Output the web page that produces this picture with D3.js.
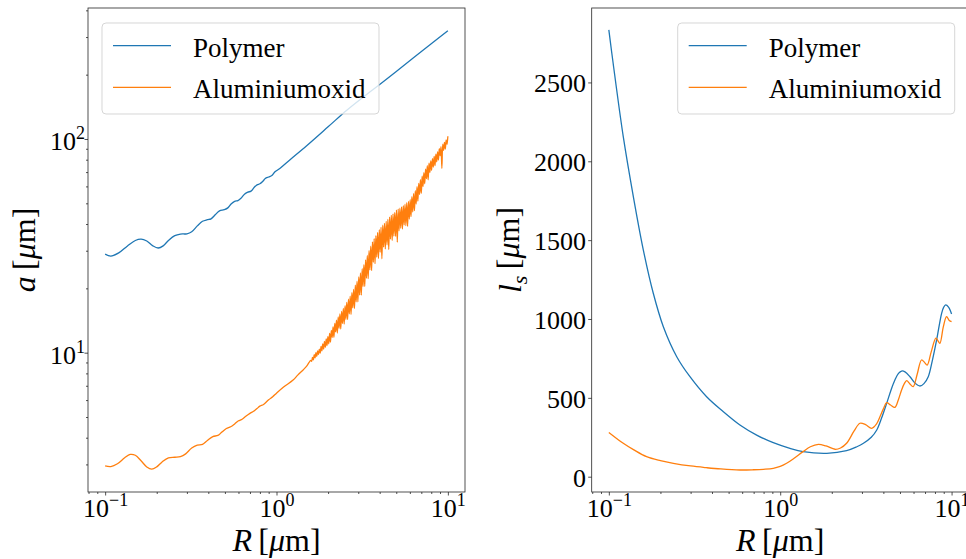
<!DOCTYPE html>
<html>
<head>
<meta charset="utf-8">
<script src="https://cdn.jsdelivr.net/npm/d3@7"></script>
<style>
  html, body { margin: 0; padding: 0; background: #fff; }
  svg { display: block; font-family: "Liberation Serif", "Times New Roman", serif; }
</style>
</head>
<body>
<svg id="fig" width="966" height="559"></svg>
<script>
// ---- series ----
const seriesNames = ["Polymer", "Aluminiumoxid"];
const seriesColors = ["#1f77b4", "#ff7f0e"];

// left panel: a(R), Polymer
const polyR_a = [0.100, 0.108, 0.120, 0.135, 0.150, 0.162, 0.175, 0.190, 0.204, 0.218, 0.235, 0.255, 0.275,
  0.300, 0.320, 0.345, 0.370, 0.395, 0.415, 0.440, 0.465, 0.495, 0.520, 0.545, 0.570, 0.595, 0.620, 0.650,
  0.680, 0.710, 0.740, 0.770, 0.800, 0.830, 0.860, 0.900, 0.940, 0.980, 1.05, 1.20, 1.50, 2.00, 2.56, 3.20,
  4.00, 5.00, 6.30, 8.00, 10.0];
const polyA = [28.9, 28.3, 29.3, 31.6, 33.5, 34.0, 33.3, 31.6, 30.9, 31.6, 33.6, 35.3, 35.9,
  36.0, 36.8, 39.2, 41.2, 41.9, 42.3, 44.3, 46.1, 46.7, 47.6, 49.8, 51.1, 51.5, 52.8, 55.2,
  56.4, 57.0, 59.3, 61.0, 61.7, 63.2, 65.3, 66.4, 67.5, 70.2, 73.0, 80.0, 93.0, 114, 136, 157,
  180, 207, 240, 279, 321];

// left panel: a(R), Aluminiumoxid (smooth part, then the rapidly oscillating part)
const aluR_a = [0.100, 0.108, 0.118, 0.130, 0.140, 0.150, 0.162, 0.175, 0.187, 0.200, 0.215, 0.234, 0.255,
  0.275, 0.295, 0.320, 0.345, 0.370, 0.395, 0.425, 0.455, 0.480, 0.510, 0.540, 0.570, 0.600, 0.630, 0.665,
  0.700, 0.735, 0.770, 0.800, 0.840, 0.900, 0.950, 1.00, 1.10, 1.25, 1.33, 1.43, 1.50,
  1.585, 1.603, 1.622, 1.641, 1.660, 1.679, 1.698, 1.718, 1.738, 1.758,
  1.778, 1.799, 1.820, 1.841, 1.862, 1.884, 1.905, 1.928, 1.950, 1.972,
  1.995, 2.018, 2.042, 2.065, 2.089, 2.113, 2.138, 2.163, 2.188, 2.213,
  2.239, 2.265, 2.291, 2.317, 2.344, 2.371, 2.399, 2.427, 2.455, 2.483,
  2.512, 2.541, 2.570, 2.600, 2.630, 2.661, 2.692, 2.723, 2.754, 2.786,
  2.818, 2.851, 2.884, 2.917, 2.951, 2.985, 3.020, 3.055, 3.090, 3.126,
  3.162, 3.199, 3.236, 3.273, 3.311, 3.350, 3.388, 3.428, 3.467, 3.508,
  3.548, 3.589, 3.631, 3.673, 3.715, 3.758, 3.802, 3.846, 3.890, 3.936,
  3.981, 4.027, 4.074, 4.121, 4.169, 4.217, 4.266, 4.315, 4.365, 4.416,
  4.467, 4.519, 4.571, 4.624, 4.677, 4.732, 4.786, 4.842, 4.898, 4.955,
  5.012, 5.070, 5.129, 5.188, 5.248, 5.309, 5.370, 5.433, 5.495, 5.559,
  5.623, 5.689, 5.754, 5.821, 5.888, 5.957, 6.026, 6.095, 6.166, 6.237,
  6.310, 6.383, 6.457, 6.531, 6.607, 6.683, 6.761, 6.839, 6.918, 6.998,
  7.079, 7.161, 7.244, 7.328, 7.413, 7.499, 7.586, 7.674, 7.762, 7.852,
  7.943, 8.035, 8.128, 8.222, 8.318, 8.414, 8.511, 8.610, 8.710, 8.810,
  8.913, 9.016, 9.120, 9.226, 9.333, 9.441, 9.550, 9.661, 9.772, 9.886,
  10.00];
const aluA = [2.95, 2.93, 3.02, 3.22, 3.34, 3.31, 3.12, 2.92, 2.85, 2.92, 3.08, 3.22, 3.24,
  3.26, 3.36, 3.58, 3.69, 3.72, 3.88, 4.05, 4.10, 4.25, 4.42, 4.50, 4.64, 4.80, 4.88, 5.05,
  5.20, 5.32, 5.48, 5.62, 5.72, 6.02, 6.22, 6.46, 6.90, 7.45, 7.85, 8.30, 8.65,
  9.2, 9.1, 9.5, 9.25, 9.8, 9.45, 10.0, 9.6, 10.2, 9.8,
  10.4, 9.95, 10.7, 10.2, 11.0, 10.4, 11.3, 10.6, 11.6, 10.8,
  11.9, 11.0, 12.3, 11.2, 12.7, 11.8, 13.2, 11.8, 13.7, 12.5,
  14.2, 12.35, 14.7, 13.0, 15.2, 12.9, 15.6, 13.7, 16.1, 13.6,
  16.6, 14.3, 17.2, 14.3, 17.8, 15.2, 18.4, 15.1, 19.1, 16.2,
  19.8, 16.1, 20.7, 17.3, 21.6, 17.3, 22.6, 18.6, 23.6, 18.6,
  24.7, 20.4, 25.8, 20.4, 27.2, 22.3, 28.5, 22.2, 30.0, 24.4,
  31.5, 24.2, 33.0, 26.5, 34.2, 26.1, 35.3, 28.0, 36.5, 27.6,
  37.6, 29.5, 38.6, 27.5, 39.5, 31.2, 40.3, 30.6, 41.2, 32.0,
  42.1, 30.4, 43.1, 34.0, 43.9, 33.5, 44.6, 35.1, 45.3, 35.0,
  46.5, 32.9, 47.0, 37.2, 47.4, 38.2, 48.1, 37.9, 48.8, 39.6,
  49.5, 39.3, 50.3, 39.0, 51.0, 42.2, 52.0, 43.3, 53.7, 45.5,
  55.5, 46.2, 57.3, 49.6, 59.8, 51.2, 62.0, 55.0, 64.5, 55.7,
  67.0, 59.9, 69.6, 61.7, 72.3, 65.2, 75.0, 64.4, 77.0, 69.6,
  79.0, 71.4, 81.0, 73.9, 83.0, 75.0, 85.0, 78.2, 87.0, 79.7,
  90.0, 83.5, 92.0, 72.9, 94.5, 88.4, 96.5, 89.7, 99.0, 94.4,
  103];

// right panel: l_s(R), Polymer
const polyR_ls = [0.100, 0.106, 0.1214, 0.139, 0.159, 0.1817, 0.208, 0.249, 0.2975, 0.372, 0.466, 0.582,
  0.729, 0.911, 1.14, 1.36, 1.87, 2.44, 2.80, 3.06, 3.40, 3.66, 3.90, 4.18, 4.45, 4.67, 4.90, 5.11, 5.35,
  5.72, 6.10, 6.54, 6.90, 7.31, 7.70, 8.18, 8.75, 9.00, 9.24, 9.60, 10.0];
const polyLs = [2833, 2620, 2156, 1776, 1437, 1163, 951, 761, 634, 507, 412, 328,
  264, 216, 180, 159, 148, 165, 190, 212, 250, 296, 370, 465, 555, 613, 655, 670, 665,
  634, 595, 575, 590, 634, 730, 867, 1036, 1075, 1089, 1075, 1032];

// right panel: l_s(R), Aluminiumoxid
const aluR_ls = [0.100, 0.1214, 0.140, 0.166, 0.200, 0.238, 0.300, 0.372, 0.450, 0.582, 0.700, 0.800, 0.911,
  1.00, 1.09, 1.20, 1.36, 1.50, 1.67, 1.85, 2.09, 2.25, 2.44, 2.70, 2.92, 3.15, 3.42, 3.65, 3.82, 4.00,
  4.18, 4.40, 4.67, 4.90, 5.11, 5.30, 5.47, 5.70, 5.97, 6.30, 6.68, 6.95, 7.21, 7.60, 8.10, 8.30, 8.55,
  8.95, 9.35, 9.70, 10.0];
const aluLs = [281, 212, 170, 127, 102, 85, 68, 57, 49, 42.5, 44, 47, 53,
  65, 85, 115, 159, 190, 205, 195, 174, 182, 212, 290, 339, 330, 307, 335, 380, 430,
  469, 455, 440, 490, 550, 590, 609, 590, 571, 650, 740, 725, 708, 790, 878, 865, 846,
  950, 1015, 990, 983];

// ---- ticks ----
const xMajorTicks = [0.1, 1, 10];
const xTickExponents = ["\u22121", "0", "1"];
const xMinorTicks = [0.08, 0.09, 0.2, 0.3, 0.4, 0.5, 0.6, 0.7, 0.8, 0.9, 2, 3, 4, 5, 6, 7, 8, 9];
const aMajorTicks = [10, 100];
const aTickExponents = ["1", "2"];
const aMinorTicks = [3, 4, 5, 6, 7, 8, 9, 20, 30, 40, 50, 60, 70, 80, 90, 200, 300, 400];
const lsTicks = [0, 500, 1000, 1500, 2000, 2500];

// ---- layout ----
const svg = d3.select("#fig");
const TOP = 8, BOTTOM = 492;
const panelW = 377;
const leftX0 = 88, rightX0 = 591.7;
const tickFont = 26, supFont = 18, labelFont = 32, legendFont = 27;
const axisColor = "#262626";

const xL = d3.scaleLog().domain([Math.pow(10, -1.1), Math.pow(10, 1.1)]).range([leftX0, leftX0 + panelW]);
const yL = d3.scaleLog().domain([Math.pow(10, 0.348), Math.pow(10, 2.613)]).range([BOTTOM, TOP]);
const xR = d3.scaleLog().domain([Math.pow(10, -1.1), Math.pow(10, 1.1)]).range([rightX0, rightX0 + panelW]);
const yR = d3.scaleLinear().domain([-97, 2972]).range([BOTTOM, TOP]);

function cleanAxis(sel) {
  sel.attr("font-family", null).attr("font-size", null).attr("color", axisColor);
  sel.select(".domain").remove();
  sel.selectAll(".tick line").attr("stroke-width", 0.8);
}

function powerLabel(textSel, exps, fontSize) {
  textSel.each(function (d, i) {
    const t = d3.select(this);
    t.text(null).attr("fill", "#000").attr("font-size", fontSize);
    t.append("tspan").text("10");
    t.append("tspan").attr("font-size", supFont).attr("dy", "-0.62em").text(exps[i]);
  });
}

function drawXAxis(x) {
  svg.append("g").attr("transform", `translate(0,${BOTTOM})`)
    .call(d3.axisBottom(x).tickValues(xMinorTicks).tickSize(2).tickFormat(""))
    .call(cleanAxis);
  const g = svg.append("g").attr("transform", `translate(0,${BOTTOM})`)
    .call(d3.axisBottom(x).tickValues(xMajorTicks).tickSize(3.5).tickFormat(() => ""))
    .call(cleanAxis);
  const txt = g.selectAll(".tick text").attr("y", 25).attr("dy", null).attr("text-anchor", "middle");
  powerLabel(txt, xTickExponents, tickFont);
}

function drawPanelFrame(x0, id) {
  svg.append("defs").append("clipPath").attr("id", id)
    .append("rect").attr("x", x0).attr("y", TOP).attr("width", panelW).attr("height", BOTTOM - TOP);
}

function drawLines(x, y, data, clipId) {
  const line = d3.line().x(d => x(d[0])).y(d => y(d[1])).curve(d3.curveCatmullRom.alpha(0.5));
  const g = svg.append("g").attr("clip-path", `url(#${clipId})`);
  data.forEach((pts, i) => {
    g.append("path").attr("d", line(pts)).attr("fill", "none")
      .attr("stroke", seriesColors[i]).attr("stroke-width", 1.3)
      .attr("stroke-linejoin", "round").attr("stroke-linecap", "butt");
  });
}

function drawSpines(x0) {
  svg.append("rect").attr("x", x0).attr("y", TOP).attr("width", panelW).attr("height", BOTTOM - TOP)
    .attr("fill", "none").attr("stroke", axisColor).attr("stroke-width", 0.8);
}

function drawLegend(bx) {
  const g = svg.append("g");
  g.append("rect").attr("x", bx).attr("y", 23).attr("width", 277).attr("height", 91)
    .attr("rx", 4).attr("ry", 4)
    .attr("fill", "#fff").attr("fill-opacity", 0.8)
    .attr("stroke", "#cccccc").attr("stroke-opacity", 0.8).attr("stroke-width", 1);
  const rows = [45.7, 87.3];
  seriesNames.forEach((name, i) => {
    g.append("line").attr("x1", bx + 11).attr("x2", bx + 69).attr("y1", rows[i]).attr("y2", rows[i])
      .attr("stroke", seriesColors[i]).attr("stroke-width", 1.3);
    g.append("text").attr("x", bx + 91).attr("y", rows[i] + 11)
      .attr("font-size", legendFont).attr("fill", "#000").text(name);
  });
}

function axisLabelR(cx) {
  const t = svg.append("text").attr("x", cx).attr("y", 551).attr("text-anchor", "middle")
    .attr("font-size", labelFont).attr("fill", "#000");
  t.append("tspan").attr("font-style", "italic").text("R");
  t.append("tspan").text("\u2009[");
  t.append("tspan").attr("font-style", "italic").text("\u03bc");
  t.append("tspan").text("m]");
}

// ---- left panel ----
drawPanelFrame(leftX0, "clipL");
drawLines(xL, yL, [d3.zip(polyR_a, polyA), d3.zip(aluR_a, aluA)], "clipL");
drawLegend(102);
drawSpines(leftX0);
drawXAxis(xL);
svg.append("g").attr("transform", `translate(${leftX0},0)`)
  .call(d3.axisLeft(yL).tickValues(aMinorTicks).tickSize(2).tickFormat(""))
  .call(cleanAxis);
{
  const g = svg.append("g").attr("transform", `translate(${leftX0},0)`)
    .call(d3.axisLeft(yL).tickValues(aMajorTicks).tickSize(3.5).tickFormat(() => ""))
    .call(cleanAxis);
  const txt = g.selectAll(".tick text").attr("x", -3).attr("dy", null).attr("y", 10.5)
    .attr("text-anchor", "end");
  powerLabel(txt, aTickExponents, tickFont);
}
{
  const t = svg.append("text").attr("transform", "translate(35,250) rotate(-90)")
    .attr("text-anchor", "middle").attr("font-size", labelFont).attr("fill", "#000");
  t.append("tspan").attr("font-style", "italic").text("a");
  t.append("tspan").text("\u2009[");
  t.append("tspan").attr("font-style", "italic").text("\u03bc");
  t.append("tspan").text("m]");
}
axisLabelR(leftX0 + panelW / 2);

// ---- right panel ----
drawPanelFrame(rightX0, "clipR");
drawLines(xR, yR, [d3.zip(polyR_ls, polyLs), d3.zip(aluR_ls, aluLs)], "clipR");
drawLegend(677.7);
drawSpines(rightX0);
drawXAxis(xR);
{
  const g = svg.append("g").attr("transform", `translate(${rightX0},0)`)
    .call(d3.axisLeft(yR).tickValues(lsTicks).tickSize(3.5).tickFormat(d3.format("d")))
    .call(cleanAxis);
  g.selectAll(".tick text").attr("x", -5.7).attr("dy", null).attr("y", 9.3)
    .attr("text-anchor", "end").attr("font-size", tickFont).attr("fill", "#000");
}
{
  const t = svg.append("text").attr("transform", "translate(521,250) rotate(-90)")
    .attr("text-anchor", "middle").attr("font-size", labelFont).attr("fill", "#000");
  t.append("tspan").attr("font-style", "italic").text("l");
  t.append("tspan").attr("font-style", "italic").attr("font-size", 22).attr("dy", "0.25em").text("s");
  t.append("tspan").attr("dy", "-0.25em").text("\u2009[");
  t.append("tspan").attr("font-style", "italic").text("\u03bc");
  t.append("tspan").text("m]");
}
axisLabelR(rightX0 + panelW / 2);
</script>
</body>
</html>
